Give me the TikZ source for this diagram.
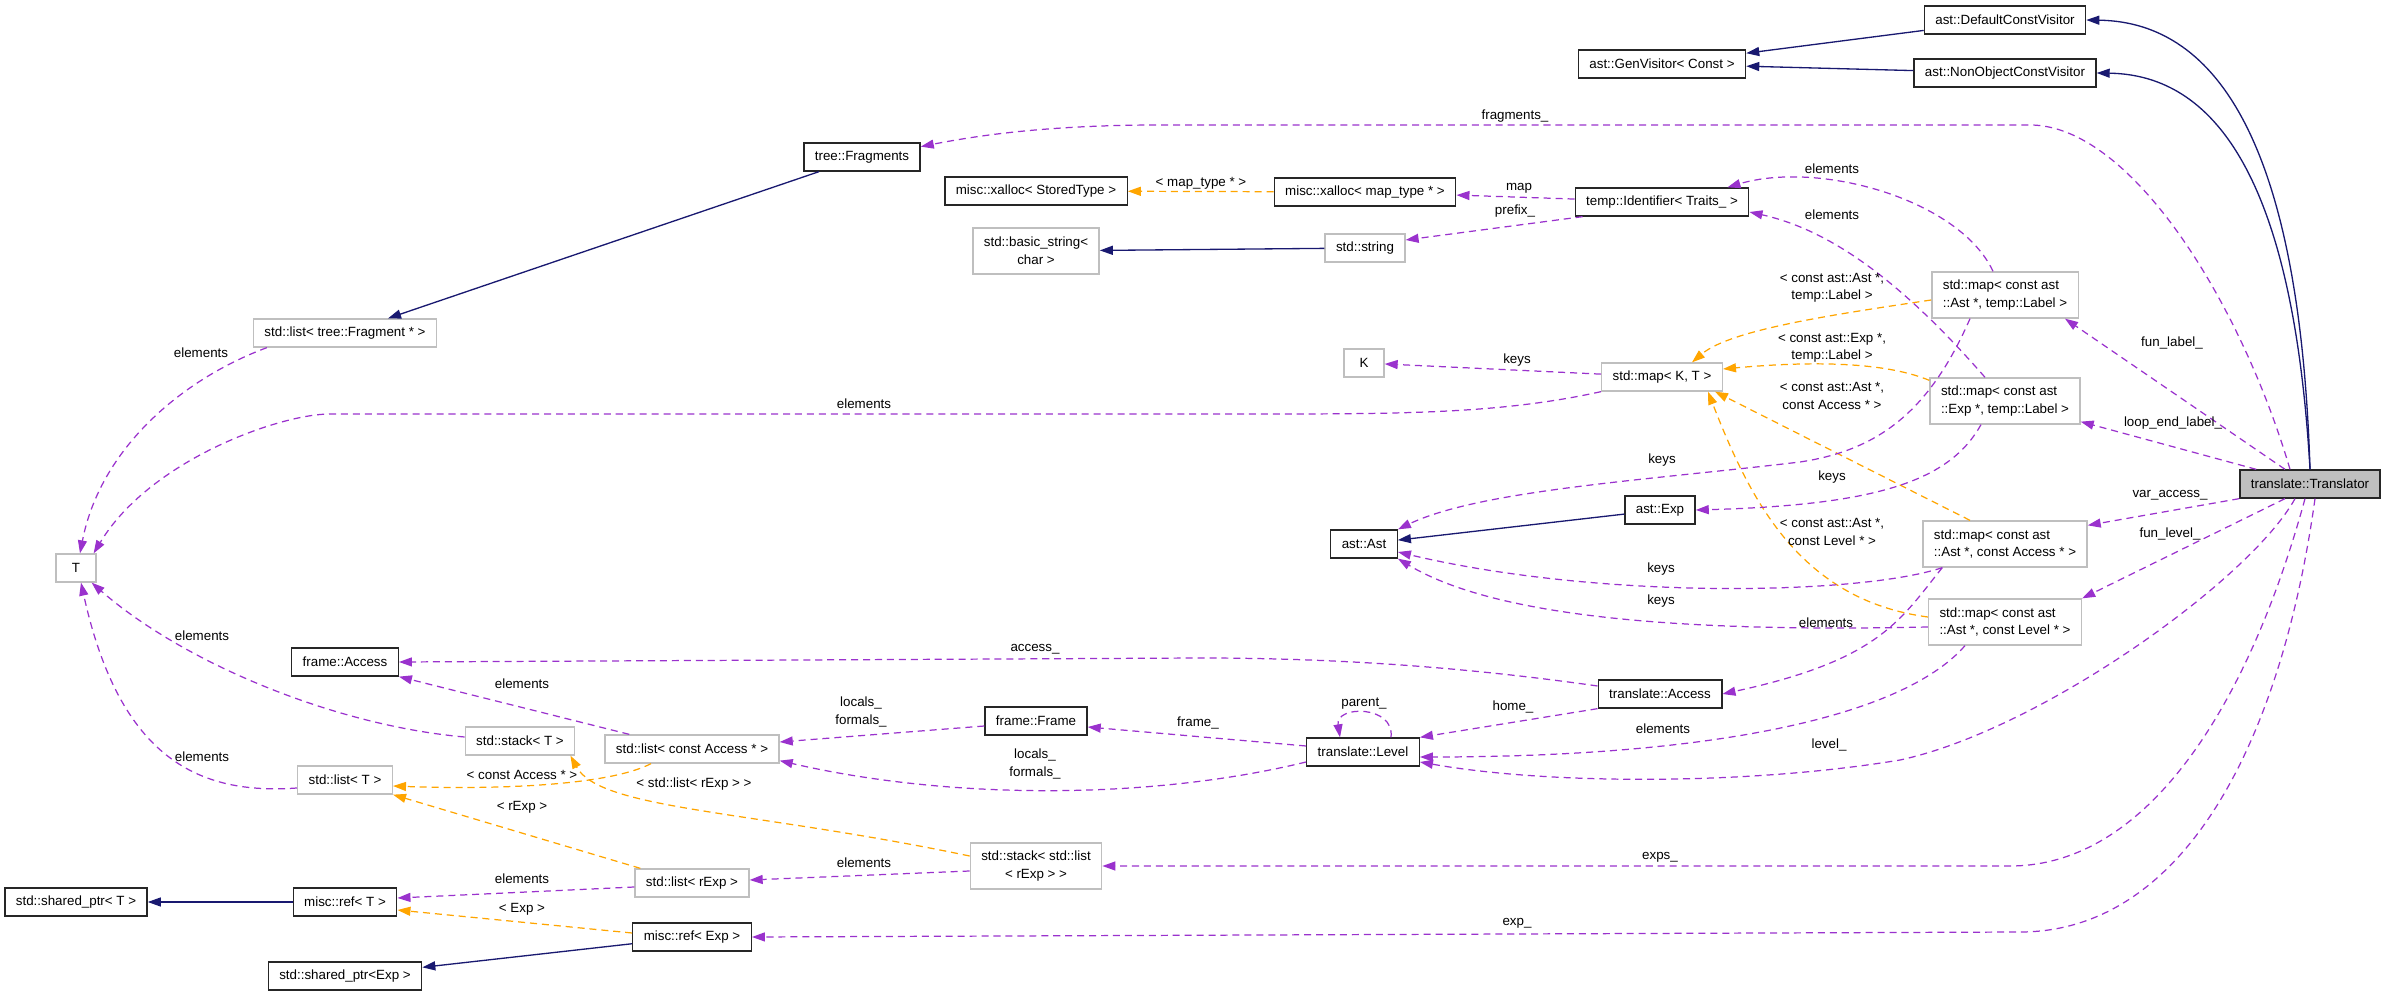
\documentclass[tikz,border=0pt]{standalone}
\usepackage{fontspec}
\setmainfont{Liberation Sans}
\usetikzlibrary{arrows.meta}

\definecolor{memberpurple}{HTML}{9A32CD}
\definecolor{tmplorange}{HTML}{FFA500}
\definecolor{basenavy}{HTML}{191970}
\definecolor{undocgray}{HTML}{BFBFBF}

\begin{document}
\begin{tikzpicture}[
  x=0.02cm, y=-0.02cm,
  cls/.style={
    rectangle, draw=black!85, line width=0.75pt, fill=white,
    inner xsep=0.22cm, inner ysep=0pt, minimum height=0.56cm,
    font=\fontsize{7.6}{10}\selectfont
  },
  extcls/.style={cls, draw=undocgray},
  twolines/.style={minimum height=0.92cm, align=center},
  leftlines/.style={minimum height=0.92cm, align=left},
  lbl/.style={inner sep=0pt, align=center, font=\fontsize{7.6}{10}\selectfont},
  member/.style={-{Triangle[length=0.26cm,width=0.18cm]}, draw=memberpurple,
    line width=0.7pt, dash pattern=on 4pt off 2.8pt},
  tmpl/.style={member, draw=tmplorange},
  inherit/.style={-{Triangle[length=0.26cm,width=0.18cm]}, draw=basenavy, line width=0.75pt}
]
\useasboundingbox (0,0) rectangle (2384,996);
% Base classes
\node[cls] (dcv)    at (2005,20) {ast::DefaultConstVisitor};
\node[cls] (novis)  at (2005,73) {ast::NonObjectConstVisitor};
\node[cls] (genvis) at (1662,64) {ast::GenVisitor< Const >};
% Upper members
\node[cls] (frags)   at (862,157)  {tree::Fragments};
\node[cls] (xstored) at (1036,191) {misc::xalloc< StoredType >};
\node[cls] (xmap)    at (1365,192) {misc::xalloc< map\_type * >};
\node[cls] (ident)   at (1662,202) {temp::Identifier< Traits\_ >};
\node[extcls, twolines] (bstr) at (1036,251) {std::basic\_string<\\char >};
\node[extcls] (str)   at (1365,248) {std::string};
\node[extcls] (lfrag) at (345,333)  {std::list< tree::Fragment * >};
\node[extcls, minimum width=0.8cm] (kk) at (1364,363) {K};
\node[extcls] (mkt)   at (1662,377) {std::map< K, T >};
% Maps
\node[extcls, leftlines] (mlabel)  at (2005,295) {std::map< const ast\\::Ast *, temp::Label >};
\node[extcls, leftlines] (melabel) at (2005,401) {std::map< const ast\\::Exp *, temp::Label >};
\node[extcls, leftlines] (macc)    at (2005,544) {std::map< const ast\\::Ast *, const Access * >};
\node[extcls, leftlines] (mlev)    at (2005,622) {std::map< const ast\\::Ast *, const Level * >};
\node[cls, fill=undocgray] (trans) at (2310,484) {translate::Translator};
% Middle
\node[extcls, minimum width=0.8cm] (tt) at (76,568) {T};
\node[cls] (exp)    at (1660,510) {ast::Exp};
\node[cls] (ast)    at (1364,544) {ast::Ast};
\node[cls] (facc)   at (345,662)  {frame::Access};
\node[cls] (tacc)   at (1660,694) {translate::Access};
\node[cls] (fframe) at (1036,721) {frame::Frame};
\node[extcls] (stackt) at (520,741) {std::stack< T >};
\node[extcls] (lacc)   at (692,749) {std::list< const Access * >};
\node[cls] (level)  at (1363,752) {translate::Level};
\node[extcls] (listt)  at (345,780) {std::list< T >};
% Bottom
\node[extcls, twolines] (slist) at (1036,866) {std::stack< std::list\\< rExp > >};
\node[extcls] (lrexp) at (692,883) {std::list< rExp >};
\node[cls] (spt)    at (76,902)  {std::shared\_ptr< T >};
\node[cls] (reft)   at (345,902) {misc::ref< T >};
\node[cls] (refexp) at (692,937) {misc::ref< Exp >};
\node[cls] (spexp)  at (345,976) {std::shared\_ptr<Exp >};
% Inheritance
\draw[inherit] (dcv) -- (genvis);
\draw[inherit] (novis) -- (genvis);
\draw[inherit] (trans.north) .. controls (2300,150) and (2220,22) .. (dcv.east);
\draw[inherit] (trans.north) .. controls (2295,210) and (2230,75) .. (novis.east);
\draw[inherit] (frags) -- (lfrag);
\draw[inherit] (str) -- (bstr);
\draw[inherit] (exp) -- (ast);
\draw[inherit] (reft) -- (spt);
\draw[inherit] (refexp) -- (spexp);
% Template instances
\draw[tmpl] (xmap) -- (xstored);
\draw[tmpl] ([yshift=-0.1cm]mlabel.west) .. controls (1830,315) and (1730,330) .. ([xshift=0.6cm]mkt.north);
\draw[tmpl] ([yshift=-0.06cm]melabel.north west) .. controls (1880,360) and (1800,362) .. ([yshift=0.16cm]mkt.east);
\draw[tmpl] ([xshift=-0.7cm]macc.north) -- ([xshift=1.06cm]mkt.south);
\draw[tmpl] ([yshift=0.1cm]mlev.west) .. controls (1800,600) and (1750,500) .. ([xshift=0.92cm]mkt.south);
\draw[tmpl] ([xshift=-0.82cm]lacc.south) .. controls (610,785) and (500,790) .. ([yshift=-0.12cm]listt.east);
\draw[tmpl] ([yshift=0.2cm]slist.west) .. controls (750,810) and (600,810) .. ([xshift=-0.1cm]stackt.south east);
\draw[tmpl] ([xshift=0.12cm]lrexp.north west) -- (listt.south east);
\draw[tmpl] ([yshift=0.08cm]refexp.west) -- ([yshift=-0.16cm]reft.east);
% Members of translate::Translator
\draw[member] ([xshift=-0.4cm]trans.north) .. controls (2240,300) and (2130,125) .. (2030,125)
  -- (1160,125) .. controls (1050,125) and (980,135) .. (frags.10);
\draw[member] ([xshift=-0.5cm]trans.north) -- ([xshift=1.2cm]mlabel.south);
\draw[member] ([xshift=0.34cm]trans.north west) -- ([yshift=0.06cm]melabel.south east);
\draw[member] (trans.south west) -- ([yshift=-0.1cm]macc.north east);
\draw[member] ([xshift=-0.5cm]trans.south) -- (mlev.north east);
\draw[member] ([xshift=-0.3cm]trans.south) .. controls (2250,580) and (2040,730) .. (1900,760)
  .. controls (1750,785) and (1550,785) .. ([yshift=-0.2cm]level.east);
\draw[member] ([xshift=-0.1cm]trans.south) .. controls (2250,700) and (2150,866) .. (2010,866) -- (slist.east);
\draw[member] ([xshift=0.1cm]trans.south) .. controls (2280,750) and (2180,932) .. (2020,932) -- (refexp.east);
% Other members
\draw[member] (ident) -- (xmap);
\draw[member] ([xshift=0.16cm]ident.south west) -- ([yshift=0.16cm]str.east);
\draw[member] ([xshift=-0.24cm]mlabel.north) .. controls (1960,200) and (1820,160) .. ([xshift=-0.44cm]ident.north east);
\draw[member] ([xshift=-0.4cm]melabel.north) .. controls (1900,280) and (1830,230) .. ([yshift=-0.2cm]ident.east);
\draw[member] (mkt) -- (kk);
\draw[member] (mkt.south west) .. controls (1500,414) and (1400,414) .. (1250,414)
  -- (330,414) .. controls (280,414) and (150,460) .. ([xshift=-0.06cm]tt.north east);
\draw[member] ([xshift=0.28cm]lfrag.south west) .. controls (180,380) and (100,450) .. ([xshift=0.08cm]tt.north);
\draw[member] ([xshift=-0.7cm]mlabel.south) .. controls (1930,410) and (1880,450) .. (1800,462)
  .. controls (1650,480) and (1480,490) .. (ast.north east);
\draw[member] ([xshift=-0.48cm]melabel.south) .. controls (1950,480) and (1880,505) .. (exp.east);
\draw[member] ([xshift=0.4cm]macc.south west) .. controls (1860,595) and (1600,600) .. ([yshift=-0.16cm]ast.east);
\draw[member] ([yshift=-0.1cm]mlev.west) .. controls (1700,632) and (1500,620) .. (ast.south east);
\draw[member] ([xshift=0.4cm]macc.south west) .. controls (1900,620) and (1880,660) .. (tacc.east);
\draw[member] ([xshift=-0.8cm]mlev.south) .. controls (1900,720) and (1700,757) .. ([yshift=-0.1cm]level.east);
\draw[member] ([yshift=0.16cm]tacc.west) .. controls (1450,665) and (1320,658) .. (1200,658) -- (facc.east);
\draw[member] (tacc.south west) -- (level.north east);
\draw[member] ([xshift=0.56cm]level.north) .. controls (1395,705) and (1335,705) .. ([xshift=-0.46cm]level.north);
\draw[member] ([yshift=0.12cm]level.west) -- ([yshift=-0.12cm]fframe.east);
\draw[member] ([yshift=-0.2cm]level.west) .. controls (1150,800) and (950,800) .. ([yshift=0.06cm]lacc.south east);
\draw[member] ([yshift=-0.1cm]fframe.west) -- ([yshift=0.14cm]lacc.east);
\draw[member] ([xshift=0.5cm]lacc.north west) -- (facc.south east);
\draw[member] ([yshift=0.08cm]stackt.west) .. controls (330,725) and (180,660) .. ([xshift=-0.1cm]tt.south east);
\draw[member] ([yshift=-0.16cm]listt.west) .. controls (200,795) and (120,760) .. ([xshift=0.1cm]tt.south);
\draw[member] ([yshift=-0.1cm]slist.west) -- ([yshift=0.06cm]lrexp.east);
\draw[member] ([yshift=-0.08cm]lrexp.west) -- ([yshift=0.08cm]reft.east);
% Labels
\node[lbl] (lmaptype)  at (1201,183) {< map\_type * >};
\node[lbl] (lfragm)    at (1515,116) {fragments\_};
\node[lbl] (lmapm)     at (1519,188) {map};
\node[lbl] (lprefix)   at (1515,211) {prefix\_};
\node[lbl] (lelemup)   at (1832,169) {elements};
\node[lbl] (lelemlo)   at (1832,215) {elements};
\node[lbl] (lelemfrag) at (201,353)  {elements};
\node[lbl] (lelemkt)   at (864,404)  {elements};
\node[lbl] (lkeysk)    at (1517,360) {keys};
\node[lbl] (ltmlabel)  at (1832,288) {< const ast::Ast *,\\temp::Label >};
\node[lbl] (ltmelabel) at (1832,348) {< const ast::Exp *,\\temp::Label >};
\node[lbl] (ltmacc)    at (1832,396) {< const ast::Ast *,\\const Access * >};
\node[lbl] (ltmlev)    at (1832,532) {< const ast::Ast *,\\const Level * >};
\node[lbl] (lfunlabel) at (2172,343) {fun\_label\_};
\node[lbl] (lloopend)  at (2173,423) {loop\_end\_label\_};
\node[lbl] (lvaracc)   at (2170,495) {var\_access\_};
\node[lbl] (lfunlevel) at (2170,534) {fun\_level\_};
\node[lbl] (lkeysa)    at (1662,460) {keys};
\node[lbl] (lkeysb)    at (1832,477) {keys};
\node[lbl] (lkeysc)    at (1661,569) {keys};
\node[lbl] (lkeysd)    at (1661,601) {keys};
\node[lbl] (lelemacc)  at (1826,623) {elements};
\node[lbl] (laccess)   at (1035,649) {access\_};
\node[lbl] (lelemst)   at (202,636)  {elements};
\node[lbl] (lelemfa)   at (522,684)  {elements};
\node[lbl] (llocalsa)  at (861,712)  {locals\_\\formals\_};
\node[lbl] (lparent)   at (1364,704) {parent\_};
\node[lbl] (lhome)     at (1513,707) {home\_};
\node[lbl] (lframe)    at (1198,723) {frame\_};
\node[lbl] (lelemlev)  at (1663,729) {elements};
\node[lbl] (llevel)    at (1829,745) {level\_};
\node[lbl] (lelemlt)   at (202,757)  {elements};
\node[lbl] (llocalsb)  at (1035,764) {locals\_\\formals\_};
\node[lbl] (ltcacc)    at (522,775)  {< const Access * >};
\node[lbl] (ltlist)    at (694,784)  {< std::list< rExp > >};
\node[lbl] (ltrexp)    at (522,807)  {< rExp >};
\node[lbl] (lexps)     at (1660,857) {exps\_};
\node[lbl] (lelemsl)   at (864,863)  {elements};
\node[lbl] (lelemre)   at (522,879)  {elements};
\node[lbl] (ltexp)     at (522,909)  {< Exp >};
\node[lbl] (lexp)      at (1517,923) {exp\_};
\end{tikzpicture}
\end{document}
